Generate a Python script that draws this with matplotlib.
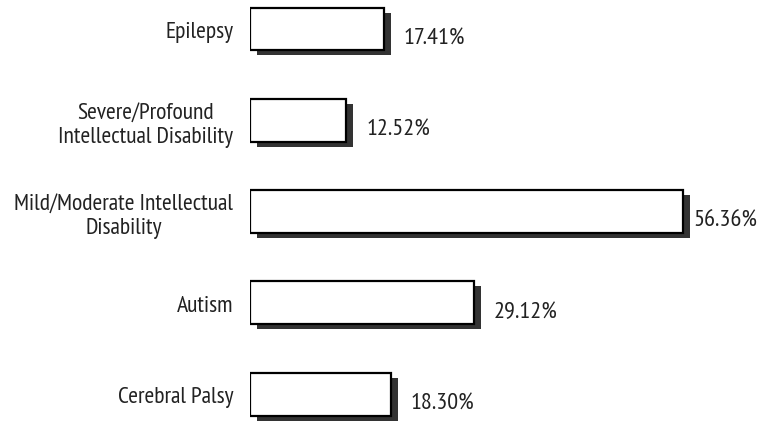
import matplotlib.pyplot as plt
import matplotlib.patheffects as pe
from matplotlib import font_manager as fm
import numpy as np

# data values
categories = ['Epilepsy', 'Severe/Profound\nIntellectual Disability',
              'Mild/Moderate Intellectual\nDisability', 'Autism', 'Cerebral Palsy']
values = [17.41, 12.52, 56.36, 29.12, 18.30]
value_labels = ['17.41%', '12.52%', '56.36%', '29.12%', '18.30%']

# pick a narrow sans font (like Arial Narrow) if one is installed
have = set(f.name for f in fm.fontManager.ttflist)
prefer = ['Liberation Sans Narrow', 'Arial Narrow', 'PT Sans Narrow', 'Archivo Narrow',
          'Roboto Condensed', 'Pragati Narrow']
narrow = [n for n in prefer if n in have][:1]
plt.rcParams['font.family'] = narrow + ['DejaVu Sans']

fig = plt.figure(figsize=(7.77, 4.27), dpi=100)
ax = fig.add_axes([250 / 777, 0, 1 - 250 / 777, 1])

y = np.arange(len(categories))
shadow = [pe.SimplePatchShadow(offset=(5, -3.6), shadow_rgbFace='#333333', alpha=1.0), pe.Normal()]
bars = ax.barh(y, values, height=0.47, color='white', edgecolor='black',
               linewidth=1.6, path_effects=shadow)

# value labels, a bit below the bar centre
for i, v in enumerate(values):
    off = 1.3 if v > 50 else 2.6
    ax.text(v + off, y[i] + 0.1, value_labels[i], ha='left', va='center',
            fontsize=17.5, color='#222222')

ax.set_xlim(0, 68.6)
ax.set_ylim(4.35, -0.329)
ax.set_yticks(y)
ax.set_yticklabels(categories, fontsize=17, color='#222222')
for lbl in ax.get_yticklabels():
    lbl.set_multialignment('center')
ax.tick_params(axis='y', length=0, pad=12)
ax.set_xticks([])
for s in ax.spines.values():
    s.set_visible(False)

plt.savefig('out.png', dpi=100)
